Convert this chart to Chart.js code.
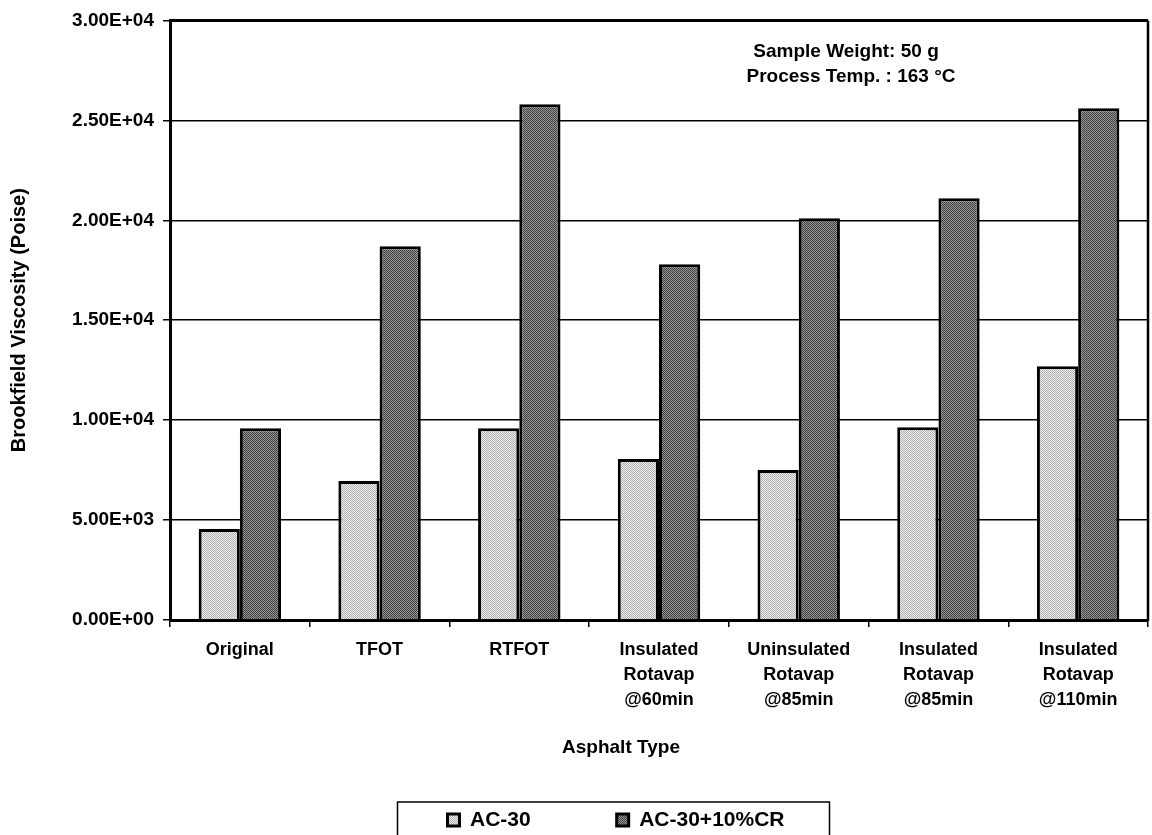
<!DOCTYPE html>
<html>
<head>
<meta charset="utf-8">
<script src="https://cdn.jsdelivr.net/npm/chart.js@4.4.1/dist/chart.umd.min.js"></script>
<style>
  html, body { margin: 0; padding: 0; background: #ffffff; }
  #wrap { width: 1152px; height: 835px; position: relative; overflow: hidden; }
  canvas { display: block; }
</style>
</head>
<body>
<div id="wrap"><canvas id="chart" width="1152" height="835"></canvas></div>
<script>
// ---------------- data ----------------
const categories = [
  ['Original'],
  ['TFOT'],
  ['RTFOT'],
  ['Insulated', 'Rotavap', '@60min'],
  ['Uninsulated', 'Rotavap', '@85min'],
  ['Insulated', 'Rotavap', '@85min'],
  ['Insulated', 'Rotavap', '@110min']
];
const seriesNames = ['AC-30', 'AC-30+10%CR'];
const ac30Values = [4550, 6950, 9600, 8050, 7500, 9650, 12700];
const ac30crValues = [9600, 18700, 25800, 17800, 20100, 21100, 25600];
const yTickValues = [0, 5000, 10000, 15000, 20000, 25000, 30000];
const yTickLabels = ['0.00E+00', '5.00E+03', '1.00E+04', '1.50E+04', '2.00E+04', '2.50E+04', '3.00E+04'];
const yAxisTitle = 'Brookfield Viscosity (Poise)';
const xAxisTitle = 'Asphalt Type';
const noteLines = ['Sample Weight: 50 g', 'Process Temp. : 163 \u00B0C'];

// ---------------- styling ----------------
const FONT = '"Liberation Sans", Arial, Helvetica, sans-serif';
const canvas = document.getElementById('chart');
const ctx = canvas.getContext('2d');

function makePattern(base, dot) {
  const p = document.createElement('canvas');
  p.width = 2; p.height = 2;
  const g = p.getContext('2d');
  g.fillStyle = base; g.fillRect(0, 0, 2, 2);
  g.fillStyle = dot; g.fillRect(0, 0, 1, 1); g.fillRect(1, 1, 1, 1);
  return ctx.createPattern(p, 'repeat');
}
const lightFill = makePattern('#eeeeee', '#b0b0b0');
const darkFill = makePattern('#969696', '#404040');

const decorPlugin = {
  id: 'decor',
  afterLayout(chart) {
    const lg = chart.legend;
    if (!lg) return;
    const pad = lg.options.labels.padding;
    const itemH = 21;
    const shift = 616 - (lg.left + lg.right) / 2;
    lg.left += shift; lg.right += shift;
    const top = 820 - itemH / 2 - pad;
    lg.top = top;
    lg.bottom = 840;
    lg.height = lg.bottom - lg.top;
  },
  afterDraw(chart) {
    const c = chart.ctx;
    const a = chart.chartArea;
    c.save();
    c.strokeStyle = '#000';
    // plot frame: top and right
    c.lineWidth = 3;
    c.beginPath();
    c.moveTo(a.left, a.top); c.lineTo(a.right, a.top);
    c.stroke();
    c.lineWidth = 2.5;
    c.beginPath();
    c.moveTo(a.right, a.top); c.lineTo(a.right, a.bottom + 1);
    c.stroke();

    // x axis title
    c.fillStyle = '#000';
    c.font = 'bold 19px ' + FONT;
    c.textAlign = 'center';
    c.textBaseline = 'middle';
    c.fillText(xAxisTitle, 621, 748);

    // note text
    c.fillText(noteLines[0], 846, 52);
    c.fillText(noteLines[1], 851, 77);

    // legend frame
    const hb = chart.legend && chart.legend.legendHitBoxes;
    if (hb && hb.length) {
      const last = hb[hb.length - 1];
      const l = hb[0].left - 50;
      const r = last.left + last.width + 45;
      c.lineWidth = 1.5;
      c.strokeRect(l, 802, r - l, 40);
    }
    c.restore();
  }
};

new Chart(ctx, {
  type: 'bar',
  data: {
    labels: categories,
    datasets: [
      {
        label: seriesNames[0],
        data: ac30Values,
        backgroundColor: lightFill,
        borderColor: '#000',
        borderWidth: 3,
        categoryPercentage: 0.59,
        barPercentage: 1.0
      },
      {
        label: seriesNames[1],
        data: ac30crValues,
        backgroundColor: darkFill,
        borderColor: '#000',
        borderWidth: 3,
        categoryPercentage: 0.59,
        barPercentage: 1.0
      }
    ]
  },
  options: {
    responsive: false,
    animation: false,
    devicePixelRatio: 1,
    layout: { padding: { top: 20, right: 4, bottom: 0, left: 0 } },
    plugins: {
      tooltip: { enabled: false },
      legend: {
        position: 'bottom',
        maxHeight: 40,
        labels: {
          color: '#000',
          font: { family: FONT, size: 21, weight: 'bold' },
          boxWidth: 12,
          boxHeight: 12,
          padding: 86
        }
      }
    },
    scales: {
      x: {
        grid: { display: true, drawOnChartArea: false, offset: true, color: '#000', lineWidth: 1.5, tickLength: 7 },
        border: { display: true, color: '#000', width: 3 },
        ticks: {
          color: '#000',
          font: { family: FONT, size: 18, weight: 'bold', lineHeight: 1.4 },
          padding: 10,
          maxRotation: 0,
          autoSkip: false
        },
        afterFit(s) { s.height = 175; }
      },
      y: {
        min: 0,
        max: 30000,
        grid: { color: '#000', lineWidth: 1.5, tickLength: 7, drawTicks: true },
        border: { display: true, color: '#000', width: 3 },
        ticks: {
          stepSize: 5000,
          color: '#000',
          padding: 9,
          font: { family: FONT, size: 19, weight: 'bold' },
          callback: (v) => {
            const i = yTickValues.indexOf(v);
            return i >= 0 ? yTickLabels[i] : '';
          }
        },
        title: {
          display: true,
          text: yAxisTitle,
          color: '#000',
          font: { family: FONT, size: 20, weight: 'bold' },
          padding: { top: 7, bottom: 0 }
        },
        afterFit(s) { s.width = 170; }
      }
    }
  },
  plugins: [decorPlugin]
});
</script>
</body>
</html>
